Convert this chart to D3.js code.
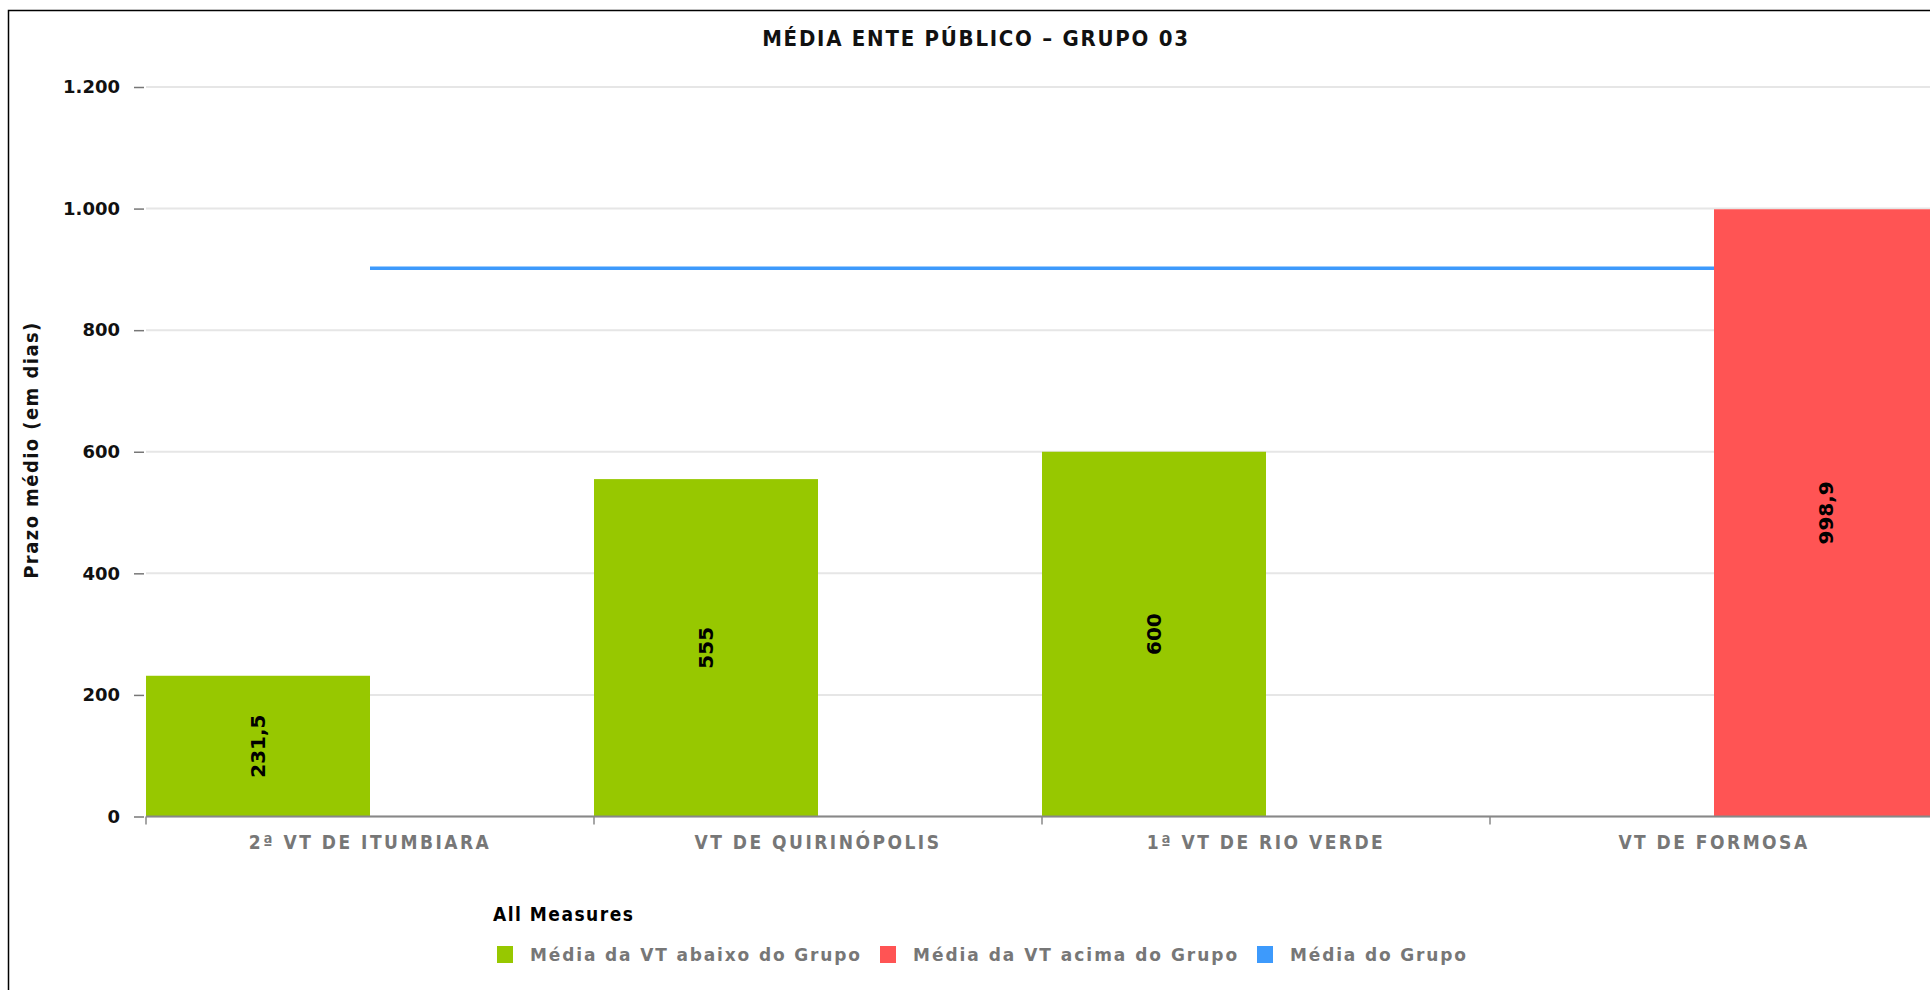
<!DOCTYPE html>
<html>
<head>
<meta charset="utf-8">
<script src="https://cdn.jsdelivr.net/npm/d3@7"></script>
<style>
  html, body { margin: 0; padding: 0; background: #fff; overflow: hidden; }
  svg { display: block; }
</style>
</head>
<body>
<svg id="chart" width="1930" height="990"></svg>
<script>
// ---- Data ----
const categories = ["2ª VT DE ITUMBIARA", "VT DE QUIRINÓPOLIS", "1ª VT DE RIO VERDE", "VT DE FORMOSA"];
const abaixoValues = [231.5, 555, 600, null];     // Média da VT abaixo do Grupo
const acimaValues = [null, null, null, 998.9];    // Média da VT acima do Grupo
const grupoValues = [902, 902, 902, 902];         // Média do Grupo
const yTicks = [0, 200, 400, 600, 800, 1000, 1200];
const seriesNames = ["Média da VT abaixo do Grupo", "Média da VT acima do Grupo", "Média do Grupo"];
const seriesColors = ["#97c800", "#ff5454", "#3d9afc"];
const titleText = "MÉDIA ENTE PÚBLICO – GRUPO 03";
const yAxisTitle = "Prazo médio (em dias)";
const legendTitle = "All Measures";

// ---- Layout ----
const svg = d3.select("#chart");
const plotLeft = 146, plotTop = 87, plotBottom = 816.5, bandW = 448;

const x = d3.scaleBand().domain(categories).range([plotLeft, plotLeft + bandW * categories.length]).padding(0);
const xSub = d3.scaleBand().domain(["abaixo", "acima"]).range([0, x.bandwidth()]).padding(0);
const y = d3.scaleLinear().domain([0, 1200]).range([plotBottom, plotTop]);

const fmt = d3.formatLocale({decimal: ",", thousands: ".", grouping: [3], currency: ["R$", ""]});
const tickFmt = fmt.format(",d");
const valFmt = v => fmt.format(",")(v);

const condensed = "'DejaVu Sans Condensed', 'Liberation Sans Narrow', 'DejaVu Sans', sans-serif";

// helper: adjust letter spacing so text reaches a given width
function fitWidth(sel, target) {
  sel.each(function() {
    const n = this.getNumberOfChars();
    const w = this.getComputedTextLength();
    if (n > 1) d3.select(this).attr("letter-spacing", ((target - w) / (n - 1)).toFixed(2));
  });
}

// border
svg.append("rect").attr("x", 8.5).attr("y", 10.5).attr("width", 2000).attr("height", 1000)
  .attr("fill", "none").attr("stroke", "#000").attr("stroke-width", 1.5);

// title
svg.append("text").attr("x", 976).attr("y", 46).attr("text-anchor", "middle")
  .attr("font-family", condensed)
  .attr("font-weight", "bold").attr("font-size", 22).attr("fill", "#111")
  .text(titleText).call(fitWidth, 426);

// gridlines
svg.append("g").selectAll("line").data(yTicks).join("line")
  .attr("x1", plotLeft).attr("x2", 1930)
  .attr("y1", d => y(d)).attr("y2", d => y(d))
  .attr("stroke", "#e6e6e6").attr("stroke-width", 2);

// y axis (ticks + labels)
const yAxis = d3.axisLeft(y).tickValues(yTicks).tickFormat(tickFmt).tickSize(10).tickPadding(14);
const yg = svg.append("g").attr("transform", `translate(${plotLeft - 2},0)`).call(yAxis);
yg.select(".domain").remove();
yg.selectAll(".tick line").attr("stroke", "#777").attr("stroke-width", 1.5);
yg.selectAll(".tick text").attr("font-family", "'DejaVu Sans', sans-serif")
  .attr("font-weight", "bold").attr("font-size", 18).attr("fill", "#111");

// y axis title
svg.append("text").attr("transform", `translate(38,450) rotate(-90)`).attr("text-anchor", "middle")
  .attr("font-family", condensed)
  .attr("font-weight", "bold").attr("font-size", 20).attr("fill", "#111")
  .text(yAxisTitle).call(fitWidth, 256);

// bars
const barData = [];
categories.forEach((c, i) => {
  if (abaixoValues[i] != null) barData.push({cat: c, key: "abaixo", v: abaixoValues[i], color: seriesColors[0]});
  if (acimaValues[i] != null) barData.push({cat: c, key: "acima", v: acimaValues[i], color: seriesColors[1]});
});
svg.append("g").selectAll("rect").data(barData).join("rect")
  .attr("x", d => x(d.cat) + xSub(d.key))
  .attr("width", xSub.bandwidth())
  .attr("y", d => y(d.v))
  .attr("height", d => y(0) - y(d.v))
  .attr("fill", d => d.color);

// x axis
const xAxis = d3.axisBottom(x).tickSize(0).tickFormat("");
const xg = svg.append("g").attr("transform", `translate(0,${plotBottom})`).call(xAxis);
xg.select(".domain").attr("stroke", "#888").attr("stroke-width", 2).attr("d", `M${plotLeft},0H1930`);
// band boundary ticks
svg.append("g").selectAll("line").data(categories).join("line")
  .attr("x1", d => x(d)).attr("x2", d => x(d))
  .attr("y1", plotBottom).attr("y2", plotBottom + 8)
  .attr("stroke", "#888").attr("stroke-width", 1.5);
// category labels
const xl = svg.append("g").selectAll("text").data(categories).join("text")
  .attr("x", d => x(d) + x.bandwidth() / 2).attr("y", 849)
  .attr("text-anchor", "middle")
  .attr("font-family", condensed)
  .attr("font-weight", "bold").attr("font-size", 19).attr("fill", "#777")
  .text(d => d);
xl.filter((d, i) => i === 0).call(fitWidth, 240);
const ls = xl.filter((d, i) => i === 0).attr("letter-spacing");
xl.attr("letter-spacing", ls);

// group mean line
const line = d3.line().x(d => x(d.cat) + x.bandwidth() / 2).y(d => y(d.v));
svg.append("path").datum(categories.map((c, i) => ({cat: c, v: grupoValues[i]})))
  .attr("d", line).attr("fill", "none").attr("stroke", seriesColors[2]).attr("stroke-width", 3.5);

// bar value labels
svg.append("g").selectAll("text").data(barData).join("text")
  .attr("transform", d => `translate(${x(d.cat) + xSub(d.key) + xSub.bandwidth() / 2},${(y(d.v) + y(0)) / 2}) rotate(-90)`)
  .attr("text-anchor", "middle").attr("dy", "0.36em")
  .attr("font-family", "'DejaVu Sans', sans-serif").attr("font-size", 20).attr("fill", "#000")
  .attr("font-weight", "bold")
  .text(d => valFmt(d.v));

// legend
svg.append("text").attr("x", 493).attr("y", 921)
  .attr("font-family", condensed)
  .attr("font-weight", "bold").attr("font-size", 19).attr("fill", "#000")
  .text(legendTitle).call(fitWidth, 140);

const legendTargets = [330, 324, 176];
let lx = 497;
const lg = svg.append("g");
seriesNames.forEach((name, i) => {
  lg.append("rect").attr("x", lx).attr("y", 946).attr("width", 16).attr("height", 17).attr("fill", seriesColors[i]);
  const t = lg.append("text").attr("x", lx + 33).attr("y", 961)
    .attr("font-family", "'DejaVu Sans', sans-serif").attr("font-weight", "bold")
    .attr("font-size", 17).attr("fill", "#777").text(name);
  t.call(fitWidth, legendTargets[i]);
  lx = lx + 33 + legendTargets[i] + 20;
});
</script>
</body>
</html>
